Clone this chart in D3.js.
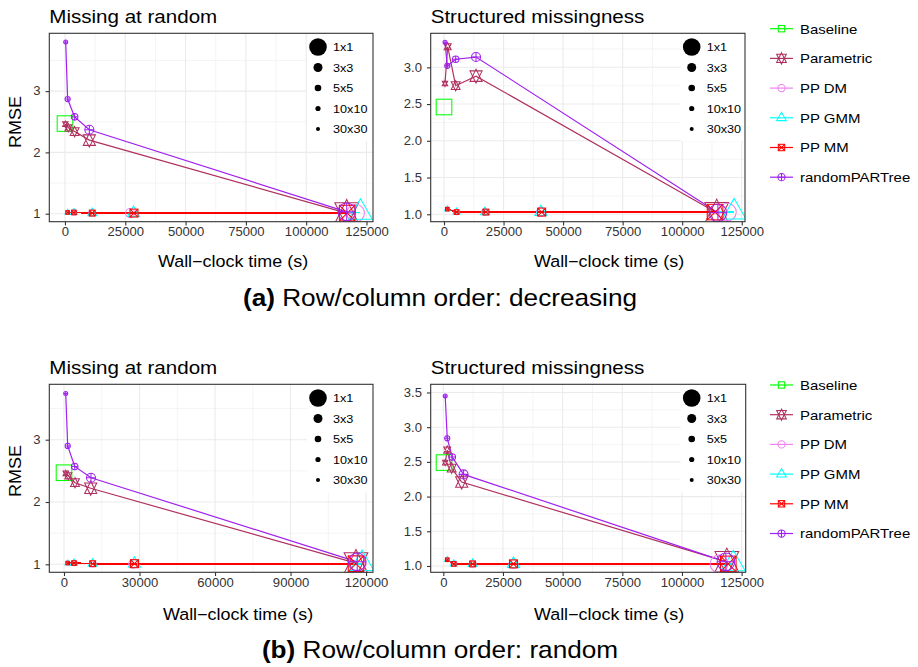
<!DOCTYPE html>
<html>
<head>
<meta charset="utf-8">
<script src="https://cdn.jsdelivr.net/npm/d3@7/dist/d3.min.js"></script>
<style>
  html, body { margin: 0; padding: 0; background: #ffffff; }
  svg { display: block; }
  text { font-family: "Liberation Sans", Arial, Helvetica, sans-serif; }
</style>
</head>
<body>
<svg id="chart" width="918" height="667"></svg>
<script>
// ---------- categories ----------
const methods = ["Baseline", "Parametric", "PP DM", "PP GMM", "PP MM", "randomPARTree"];
const gridSizes = ["1x1", "3x3", "5x5", "10x10", "30x30"];
// each series lists its runs from the finest grid (fastest) to the single block
const seriesGrids = ["30x30", "10x10", "5x5", "3x3", "1x1"];
const baselineGrid = "1x1";

// ---------- tick labels ----------
const timeTicks25k = [0, 25000, 50000, 75000, 100000, 125000];
const timeTicks30k = [0, 30000, 60000, 90000, 120000];
const rmseTicksWhole = [1, 2, 3];
const rmseTicksHalf = [1.0, 1.5, 2.0, 2.5, 3.0];
const rmseTicksHalfTo35 = [1.0, 1.5, 2.0, 2.5, 3.0, 3.5];

// ---------- (a) decreasing order, missing at random : [seconds, RMSE] ----------
const decMarBaseline = [[0, 2.47]];
const decMarParametric = [[150, 2.46], [1400, 2.40], [4000, 2.34], [10100, 2.20], [116800, 1.01]];
const decMarPPDM = [[1100, 1.02], [3700, 1.02], [11300, 1.01], [27000, 1.01], [120500, 1.01]];
const decMarPPGMM = [[1100, 1.02], [3700, 1.02], [11300, 1.01], [28400, 1.01], [122500, 1.02]];
const decMarPPMM = [[1100, 1.02], [3700, 1.02], [11300, 1.01], [28600, 1.01], [117000, 1.01]];
const decMarRandomPARTree = [[300, 3.80], [1100, 2.87], [4000, 2.58], [10100, 2.37], [116800, 1.03]];

// ---------- (a) decreasing order, structured missingness ----------
const decStrBaseline = [[0, 2.46]];
const decStrParametric = [[420, 2.78], [1550, 3.28], [4900, 2.75], [13450, 2.88], [114500, 1.02]];
const decStrPPDM = [[1400, 1.07], [5300, 1.03], [17200, 1.03], [40700, 1.03], [119000, 1.03]];
const decStrPPGMM = [[1400, 1.07], [5300, 1.03], [17200, 1.03], [40700, 1.03], [121800, 1.03]];
const decStrPPMM = [[1400, 1.07], [5300, 1.03], [17600, 1.03], [41000, 1.03], [113800, 1.03]];
const decStrRandomPARTree = [[420, 3.34], [1400, 3.02], [4900, 3.11], [13450, 3.14], [115000, 1.02]];

// ---------- (b) random order, missing at random ----------
const rndMarBaseline = [[0, 2.47]];
const rndMarParametric = [[680, 2.46], [1710, 2.42], [4370, 2.31], [10610, 2.22], [116000, 1.02]];
const rndMarPPDM = [[1470, 1.02], [3970, 1.02], [11400, 1.01], [27500, 1.01], [116500, 1.01]];
const rndMarPPGMM = [[1470, 1.02], [3970, 1.02], [11400, 1.01], [28000, 1.01], [118400, 1.01]];
const rndMarPPMM = [[1470, 1.02], [3970, 1.02], [11400, 1.01], [28000, 1.01], [116000, 1.01]];
const rndMarRandomPARTree = [[680, 3.74], [1470, 2.90], [4250, 2.57], [10730, 2.39], [116500, 1.04]];

// ---------- (b) random order, structured missingness ----------
const rndStrBaseline = [[300, 2.49]];
const rndStrParametric = [[800, 2.49], [1650, 2.67], [3500, 2.41], [7700, 2.21], [118800, 1.06]];
const rndStrPPDM = [[1650, 1.09], [4400, 1.03], [12300, 1.03], [29400, 1.03], [115500, 1.03]];
const rndStrPPGMM = [[1650, 1.09], [4400, 1.03], [12300, 1.03], [29400, 1.03], [121500, 1.03]];
const rndStrPPMM = [[1650, 1.09], [4400, 1.03], [12300, 1.03], [29400, 1.03], [119400, 1.03]];
const rndStrRandomPARTree = [[800, 3.45], [1650, 2.84], [3750, 2.57], [8500, 2.32], [118400, 1.06]];

// ---------- styling ----------
const textStretch = 1.1;
const methodColor = {
  "Baseline": "#00FF00", "Parametric": "#B03060", "PP DM": "#EE82EE",
  "PP GMM": "#00FFFF", "PP MM": "#FF0000", "randomPARTree": "#A020F0"
};
const methodShape = {
  "Baseline": "square", "Parametric": "hexagram", "PP DM": "circle",
  "PP GMM": "triangle", "PP MM": "squareX", "randomPARTree": "circlePlus"
};
// the post-processing series run almost flat, so they are drawn on whole pixels
const crispLines = { "PP DM": true, "PP GMM": true, "PP MM": true };
const gridRadius = { "1x1": 8.8, "3x3": 4.5, "5x5": 3.3, "10x10": 2.6, "30x30": 2.0 };

const svg = d3.select("#chart");

function stretchedText(parent, x, y, str, size, anchor, rotate) {
  return parent.append("text")
    .attr("transform", `translate(${x},${y})${rotate ? ` rotate(${rotate})` : ""} scale(${textStretch},1)`)
    .attr("text-anchor", anchor || "start")
    .attr("font-size", size)
    .attr("fill", "#000")
    .text(str);
}

function drawMarker(parent, shape, cx, cy, r, color) {
  const g = parent.append("g").attr("fill", "none").attr("stroke", color).attr("stroke-width", 1.05);
  const s = 0.886 * r;
  if (shape === "square" || shape === "squareX") {
    g.append("rect").attr("x", cx - s).attr("y", cy - s).attr("width", 2 * s).attr("height", 2 * s);
    if (shape === "squareX") {
      g.append("path").attr("d", `M${cx - s},${cy - s}L${cx + s},${cy + s}M${cx - s},${cy + s}L${cx + s},${cy - s}`);
    }
  } else if (shape === "circle" || shape === "circlePlus") {
    g.append("circle").attr("cx", cx).attr("cy", cy).attr("r", r);
    if (shape === "circlePlus") {
      g.append("path").attr("d", `M${cx - r},${cy}H${cx + r}M${cx},${cy - r}V${cy + r}`);
    }
  } else if (shape === "triangle") {
    const up = 1.555 * r, hw = 1.347 * r, dn = 0.778 * r;
    g.append("path").attr("d", `M${cx},${cy - up}L${cx + hw},${cy + dn}L${cx - hw},${cy + dn}Z`);
  } else if (shape === "hexagram") {
    const tip = 1.555 * r, base = 1.166 * r, hw = 1.347 * r;
    g.append("path").attr("d",
      `M${cx},${cy - tip}L${cx + hw},${cy + base}L${cx - hw},${cy + base}Z` +
      `M${cx},${cy + tip}L${cx + hw},${cy - base}L${cx - hw},${cy - base}Z`);
  }
}

function minorBreaks(major, domain) {
  const step = major[1] - major[0];
  const out = [];
  for (let i = -1; i < major.length; i++) {
    const v = major[0] + (i + 0.5) * step;
    if (v > domain[0] && v < domain[1]) out.push(v);
  }
  return out;
}

const panels = [
  { key: "a1", title: "Missing at random",
    series: [decMarBaseline, decMarParametric, decMarPPDM, decMarPPGMM, decMarPPMM, decMarRandomPARTree],
    xTicks: timeTicks25k, yTicks: rmseTicksWhole, yFormat: "d",
    xDomain: [-6500, 127700], yDomain: [0.8695, 3.943],
    box: { l: 49.3, t: 33.3, r: 373, b: 221.7 }, titleY: 23,
    xTitle: [233, 267], yTitle: [21, 122], legendX: 318 },
  { key: "a2", title: "Structured missingness",
    series: [decStrBaseline, decStrParametric, decStrPPDM, decStrPPGMM, decStrPPMM, decStrRandomPARTree],
    xTicks: timeTicks25k, yTicks: rmseTicksHalf, yFormat: ".1f",
    xDomain: [-5584, 126370], yDomain: [0.899, 3.463],
    box: { l: 430.7, t: 33.3, r: 745, b: 221.7 }, titleY: 23,
    xTitle: [609, 267], yTitle: null, legendX: 691.7 },
  { key: "b1", title: "Missing at random",
    series: [rndMarBaseline, rndMarParametric, rndMarPPDM, rndMarPPGMM, rndMarPPMM, rndMarRandomPARTree],
    xTicks: timeTicks30k, yTicks: rmseTicksWhole, yFormat: "d",
    xDomain: [-5840, 122760], yDomain: [0.872, 3.889],
    box: { l: 49.3, t: 384.3, r: 373, b: 572.3 }, titleY: 374.3,
    xTitle: [238, 620], yTitle: [21, 471], legendX: 318 },
  { key: "b2", title: "Structured missingness",
    series: [rndStrBaseline, rndStrParametric, rndStrPPDM, rndStrPPGMM, rndStrPPMM, rndStrRandomPARTree],
    xTicks: timeTicks25k, yTicks: rmseTicksHalfTo35, yFormat: ".1f",
    xDomain: [-5279, 126700], yDomain: [0.909, 3.618],
    box: { l: 430.7, t: 384.3, r: 745.7, b: 572.3 }, titleY: 374.3,
    xTitle: [609, 620], yTitle: null, legendX: 691.7 }
];

panels.forEach(p => {
  const b = p.box;
  const x = d3.scaleLinear().domain(p.xDomain).range([b.l, b.r]);
  const y = d3.scaleLinear().domain(p.yDomain).range([b.b, b.t]);
  const g = svg.append("g");

  g.append("rect").attr("x", b.l).attr("y", b.t).attr("width", b.r - b.l).attr("height", b.b - b.t).attr("fill", "#fff");

  // grid: minor then major
  const grid = g.append("g").attr("stroke", "#EBEBEB").attr("fill", "none");
  minorBreaks(p.xTicks, p.xDomain).forEach(v =>
    grid.append("line").attr("x1", x(v)).attr("x2", x(v)).attr("y1", b.t).attr("y2", b.b).attr("stroke-width", 0.55));
  minorBreaks(p.yTicks, p.yDomain).forEach(v =>
    grid.append("line").attr("x1", b.l).attr("x2", b.r).attr("y1", y(v)).attr("y2", y(v)).attr("stroke-width", 0.55));
  p.xTicks.forEach(v =>
    grid.append("line").attr("x1", x(v)).attr("x2", x(v)).attr("y1", b.t).attr("y2", b.b).attr("stroke-width", 1.1));
  p.yTicks.forEach(v =>
    grid.append("line").attr("x1", b.l).attr("x2", b.r).attr("y1", y(v)).attr("y2", y(v)).attr("stroke-width", 1.1));

  // clipped data layer
  const clipId = "clip-" + p.key;
  svg.append("clipPath").attr("id", clipId).append("rect")
    .attr("x", b.l).attr("y", b.t).attr("width", b.r - b.l).attr("height", b.b - b.t);
  const data = g.append("g").attr("clip-path", `url(#${clipId})`);

  const line = d3.line().x(d => x(d[0])).y(d => y(d[1]));
  p.series.forEach((s, i) => {
    const m = methods[i];
    if (s.length > 1) {
      data.append("path").attr("d", line(s)).attr("fill", "none")
        .attr("stroke", methodColor[m])
        .attr("stroke-width", crispLines[m] ? 1.6 : 1.2)
        .attr("shape-rendering", crispLines[m] ? "crispEdges" : "auto");
    }
  });
  p.series.forEach((s, i) => {
    const m = methods[i];
    s.forEach((d, j) => {
      const grid = s.length === 1 ? baselineGrid : seriesGrids[j];
      drawMarker(data, methodShape[m], x(d[0]), y(d[1]), gridRadius[grid], methodColor[m]);
    });
  });

  // size legend inside the panel
  const lg = g.append("g");
  lg.append("rect").attr("x", p.legendX - 11).attr("y", b.t + 1).attr("width", b.r - 1 - (p.legendX - 11))
    .attr("height", 107).attr("fill", "#fff");
  gridSizes.forEach((gs, k) => {
    const cy = b.t + 13.7 + k * 20.5;
    lg.append("circle").attr("cx", p.legendX).attr("cy", cy).attr("r", gridRadius[gs]).attr("fill", "#000");
    stretchedText(lg, p.legendX + 15, cy + 4, gs, 11.5, "start");
  });

  // border
  g.append("rect").attr("x", b.l).attr("y", b.t).attr("width", b.r - b.l).attr("height", b.b - b.t)
    .attr("fill", "none").attr("stroke", "#333333").attr("stroke-width", 1.1);

  // axes
  const xAxis = g.append("g").attr("transform", `translate(0,${b.b})`)
    .call(d3.axisBottom(x).tickValues(p.xTicks).tickFormat(d3.format("d")).tickSize(3.7).tickPadding(2.5));
  const yAxis = g.append("g").attr("transform", `translate(${b.l},0)`)
    .call(d3.axisLeft(y).tickValues(p.yTicks).tickFormat(d3.format(p.yFormat)).tickSize(3.7).tickPadding(4.2));
  [xAxis, yAxis].forEach(ax => {
    ax.select(".domain").remove();
    ax.selectAll(".tick line").attr("stroke", "#333333").attr("stroke-width", 1.1);
    ax.selectAll(".tick text").attr("fill", "#333333").attr("font-size", 11.9)
      .attr("font-family", '"Liberation Sans", Arial, Helvetica, sans-serif')
      .attr("transform", `scale(${textStretch},1)`);
  });

  // titles
  stretchedText(g, b.l, p.titleY, p.title, 18.7, "start");
  stretchedText(g, p.xTitle[0], p.xTitle[1], "Wall\u2212clock time (s)", 16.3, "middle");
  if (p.yTitle) stretchedText(g, p.yTitle[0], p.yTitle[1], "RMSE", 16.3, "middle", -90);
});

// method legends on the right
[28.7, 385].forEach(top => {
  const lg = svg.append("g");
  methods.forEach((m, i) => {
    const cy = top + i * 29.7;
    lg.append("line").attr("x1", 770).attr("x2", 793).attr("y1", cy).attr("y2", cy)
      .attr("stroke", methodColor[m]).attr("stroke-width", 1.2);
    drawMarker(lg, methodShape[m], 781.5, cy, 3.6, methodColor[m]);
    stretchedText(lg, 800, cy + 4.8, m, 13.6, "start");
  });
});

// sub-figure captions
function caption(tag, rest, cx, by) {
  const t = svg.append("text")
    .attr("transform", `translate(${cx},${by}) scale(${textStretch},1)`)
    .attr("text-anchor", "middle").attr("font-size", 23.8).attr("fill", "#000");
  t.append("tspan").attr("font-weight", "bold").text(tag);
  t.append("tspan").text(" " + rest);
}
caption("(a)", "Row/column order: decreasing", 440, 306);
caption("(b)", "Row/column order: random", 440, 658);
</script>
</body>
</html>
